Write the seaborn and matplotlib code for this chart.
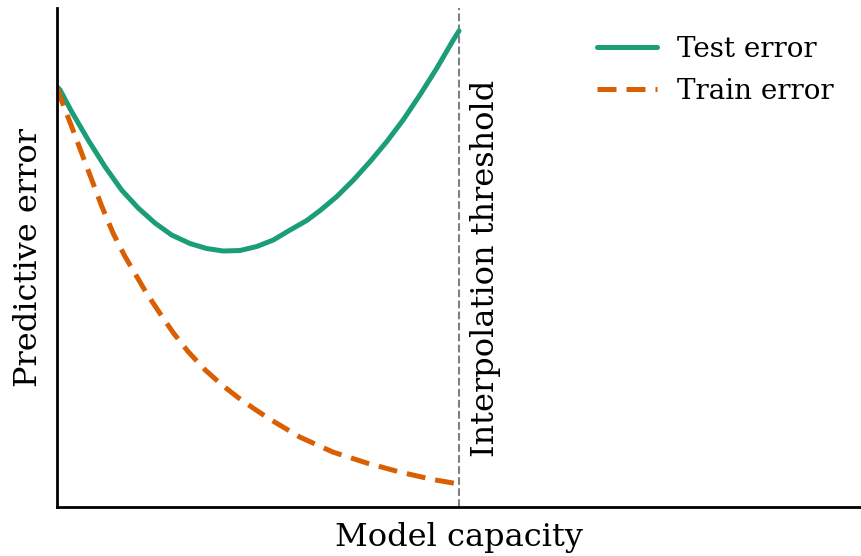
import matplotlib
matplotlib.use("Agg")
import matplotlib.pyplot as plt
import seaborn as sns
import pandas as pd

# Model capacity (interpolation threshold at 1.0) and error along each curve
test_x = [0.000, 0.0075, 0.0366, 0.0779, 0.1194, 0.1609, 0.2022, 0.2438, 0.2853,
          0.3308, 0.3724, 0.4137, 0.4552, 0.4968, 0.5381, 0.5796, 0.6211, 0.6542,
          0.6958, 0.7371, 0.7786, 0.8201, 0.8614, 0.9030, 0.9445, 0.9858, 1.000]
test_y = [0.842, 0.836, 0.792, 0.735, 0.682, 0.635, 0.599, 0.569, 0.545,
          0.528, 0.518, 0.513, 0.514, 0.522, 0.535, 0.555, 0.574, 0.594,
          0.622, 0.655, 0.692, 0.732, 0.776, 0.826, 0.879, 0.936, 0.954]

train_x = [0.000, 0.0117, 0.0366, 0.0614, 0.0863, 0.1112, 0.1400, 0.1692, 0.1983,
           0.2231, 0.2562, 0.2893, 0.3266, 0.3682, 0.4097, 0.4510, 0.4883, 0.5274,
           0.6045, 0.6866, 0.7711, 0.8532, 0.9353, 1.000]
train_y = [0.840, 0.814, 0.762, 0.709, 0.656, 0.603, 0.548, 0.502, 0.462,
           0.428, 0.388, 0.349, 0.311, 0.275, 0.245, 0.219, 0.198, 0.177,
           0.140, 0.110, 0.088, 0.070, 0.055, 0.046]

threshold = 1.0
labels = ["Test error", "Train error"]
xlabel = "Model capacity"
ylabel = "Predictive error"
threshold_label = "Interpolation threshold"

sns.set_style("white")
plt.rcParams["font.family"] = ["DejaVu Serif"]
plt.rcParams["text.color"] = "black"
plt.rcParams["axes.labelcolor"] = "black"

green, orange = sns.color_palette("Dark2", 2)

test_df = pd.DataFrame({"capacity": test_x, "error": test_y})
train_df = pd.DataFrame({"capacity": train_x, "error": train_y})

fig = plt.figure(figsize=(8.61, 5.56), dpi=100)
ax = fig.add_axes([57 / 861, 49 / 556, 1 - 57 / 861, (507 - 8) / 556])

sns.lineplot(data=test_df, x="capacity", y="error", ax=ax, color=green,
             linewidth=3.6, label=labels[0], sort=False)
sns.lineplot(data=train_df, x="capacity", y="error", ax=ax, color=orange,
             linewidth=3.6, linestyle=(0, (3.8, 2.0)), label=labels[1], sort=False)

ax.axvline(threshold, color="gray", linestyle="--", linewidth=1.5, zorder=0)
ax.text(threshold + 0.028, 0.1, threshold_label, rotation=90, fontsize=23,
        ha="left", va="bottom")

ax.set_xlim(0, 2)
ax.set_ylim(0, 1)
ax.set_xticks([])
ax.set_yticks([])
ax.set_xlabel(xlabel, fontsize=23, labelpad=11)
ax.set_ylabel(ylabel, fontsize=23, labelpad=9)

for side in ["top", "right"]:
    ax.spines[side].set_visible(False)
for side in ["left", "bottom"]:
    ax.spines[side].set_color("black")
    ax.spines[side].set_linewidth(2)

ax.legend(loc="upper right", frameon=False, fontsize=20, labelspacing=0.55,
          handlelength=2.15, handletextpad=0.7, borderaxespad=0.6)

fig.savefig("out.png", dpi=100)
